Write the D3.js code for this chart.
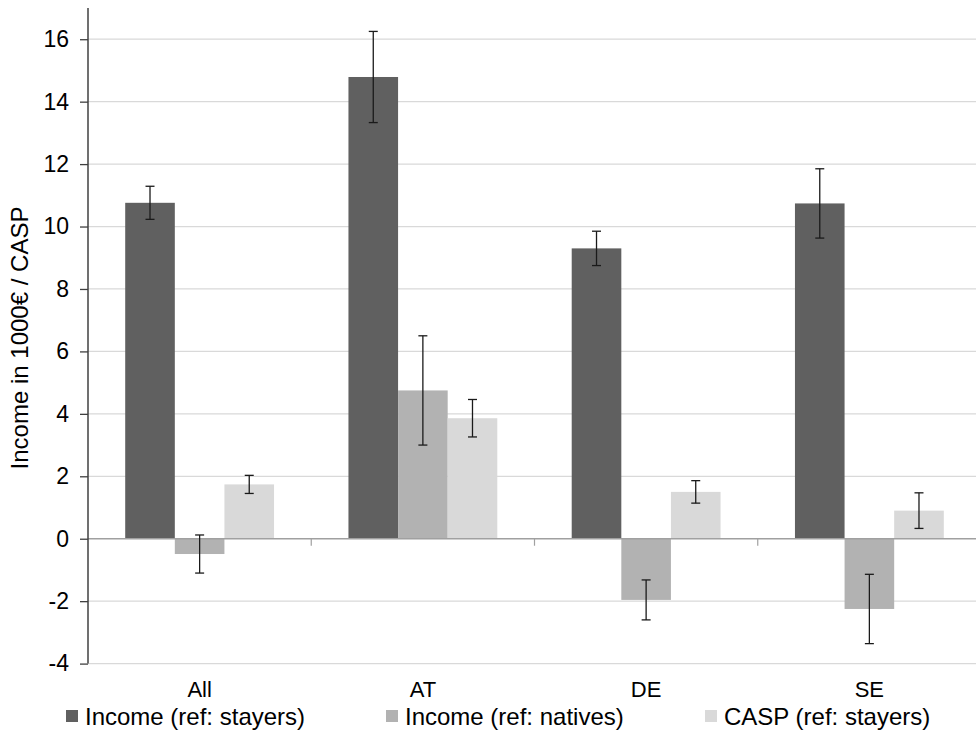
<!DOCTYPE html>
<html>
<head>
<meta charset="utf-8">
<script src="https://cdn.jsdelivr.net/npm/d3@7"></script>
<style>
  html, body { margin: 0; padding: 0; background: #fff; }
  svg { display: block; }
  text { font-family: "Liberation Sans", Arial, sans-serif; fill: #000; }
</style>
</head>
<body>
<div id="chart"></div>
<script>
// ---- data ----
const categories = ["All", "AT", "DE", "SE"];
const seriesNames = ["Income (ref: stayers)", "Income (ref: natives)", "CASP (ref: stayers)"];
const seriesColors = ["#606060", "#b2b2b2", "#d9d9d9"];
const incomeStayers = [10.76, 14.79, 9.30, 10.74];
const incomeStayersErr = [0.53, 1.46, 0.55, 1.11];
const incomeNatives = [-0.49, 4.75, -1.96, -2.25];
const incomeNativesErr = [0.61, 1.75, 0.64, 1.11];
const caspStayers = [1.74, 3.86, 1.50, 0.90];
const caspStayersErr = [0.29, 0.60, 0.36, 0.57];
const yTicks = [-4, -2, 0, 2, 4, 6, 8, 10, 12, 14, 16];
const yTitle = "Income in 1000€ / CASP";

const seriesValues = [incomeStayers, incomeNatives, caspStayers];
const seriesErrors = [incomeStayersErr, incomeNativesErr, caspStayersErr];

// ---- layout ----
const W = 976, H = 731;
const plotLeft = 88, plotRight = 981, plotTop = 8, plotBottom = 663.6;

const svg = d3.select("#chart").append("svg")
  .attr("width", W).attr("height", H);

const x0 = d3.scaleBand().domain(categories).range([plotLeft, plotRight]).padding(0);
const bw = x0.bandwidth();
const outerGap = bw * 0.75 / 4.5;
const x1 = d3.scaleBand().domain(d3.range(seriesNames.length)).range([outerGap, bw - outerGap]).padding(0);
const y = d3.scaleLinear().domain([-4, 17]).range([plotBottom, plotTop]);

// gridlines
svg.append("g").selectAll("line").data(yTicks.filter(t => t !== 0)).join("line")
  .attr("x1", plotLeft).attr("x2", plotRight)
  .attr("y1", d => y(d)).attr("y2", d => y(d))
  .attr("stroke", "#d9d9d9").attr("stroke-width", 1.3);

// bars
const flat = [];
categories.forEach((c, ci) => {
  seriesValues.forEach((vals, si) => {
    flat.push({ c, si, v: vals[ci], e: seriesErrors[si][ci] });
  });
});

svg.append("g").selectAll("rect").data(flat).join("rect")
  .attr("x", d => x0(d.c) + x1(d.si))
  .attr("width", x1.bandwidth())
  .attr("y", d => y(Math.max(0, d.v)))
  .attr("height", d => Math.abs(y(d.v) - y(0)))
  .attr("fill", d => seriesColors[d.si]);

// zero line (category axis)
svg.append("line")
  .attr("x1", plotLeft).attr("x2", plotRight)
  .attr("y1", y(0)).attr("y2", y(0))
  .attr("stroke", "#a0a0a0").attr("stroke-width", 1.5);

// category tick marks (between categories)
svg.append("g").selectAll("line").data(categories.slice(1)).join("line")
  .attr("x1", d => x0(d)).attr("x2", d => x0(d))
  .attr("y1", y(0)).attr("y2", y(0) + 7)
  .attr("stroke", "#a0a0a0").attr("stroke-width", 1.2);

// error bars
const cap = 4.5;
const eb = svg.append("g").attr("stroke", "#1a1a1a").attr("stroke-width", 1.3);
flat.forEach(d => {
  const cx = x0(d.c) + x1(d.si) + x1.bandwidth() / 2;
  const yt = y(d.v + d.e), yb = y(d.v - d.e);
  eb.append("line").attr("x1", cx).attr("x2", cx).attr("y1", yt).attr("y2", yb);
  eb.append("line").attr("x1", cx - cap).attr("x2", cx + cap).attr("y1", yt).attr("y2", yt);
  eb.append("line").attr("x1", cx - cap).attr("x2", cx + cap).attr("y1", yb).attr("y2", yb);
});

// y axis
const yAxis = d3.axisLeft(y).tickValues(yTicks).tickSize(8).tickPadding(11).tickFormat(d => String(d));
const gy = svg.append("g").attr("transform", `translate(${plotLeft},0)`).call(yAxis);
gy.select(".domain").remove();
gy.selectAll(".tick line").attr("stroke", "#404040").attr("stroke-width", 1.3);
gy.selectAll(".tick text")
  .style("font-family", '"Liberation Sans", Arial, sans-serif')
  .style("font-size", "23px").attr("fill", "#000");
svg.append("line")
  .attr("x1", plotLeft).attr("x2", plotLeft)
  .attr("y1", plotTop).attr("y2", plotBottom)
  .attr("stroke", "#404040").attr("stroke-width", 1.5);

// category labels
svg.append("g").selectAll("text").data(categories).join("text")
  .attr("x", d => x0(d) + bw / 2)
  .attr("y", 697)
  .attr("text-anchor", "middle")
  .style("font-size", "22px")
  .text(d => d);

// y title
svg.append("text")
  .attr("transform", `translate(28,${338}) rotate(-90)`)
  .attr("text-anchor", "middle")
  .style("font-size", "24px")
  .text(yTitle);

// legend
const legendX = [66, 386, 705];
const lg = svg.append("g").selectAll("g").data(seriesNames).join("g")
  .attr("transform", (d, i) => `translate(${legendX[i]},0)`);
lg.append("rect").attr("x", 0).attr("y", 710).attr("width", 12).attr("height", 12)
  .attr("fill", (d, i) => seriesColors[i]);
lg.append("text").attr("x", 19).attr("y", 724.5)
  .style("font-size", "24px")
  .text(d => d);
</script>
</body>
</html>
